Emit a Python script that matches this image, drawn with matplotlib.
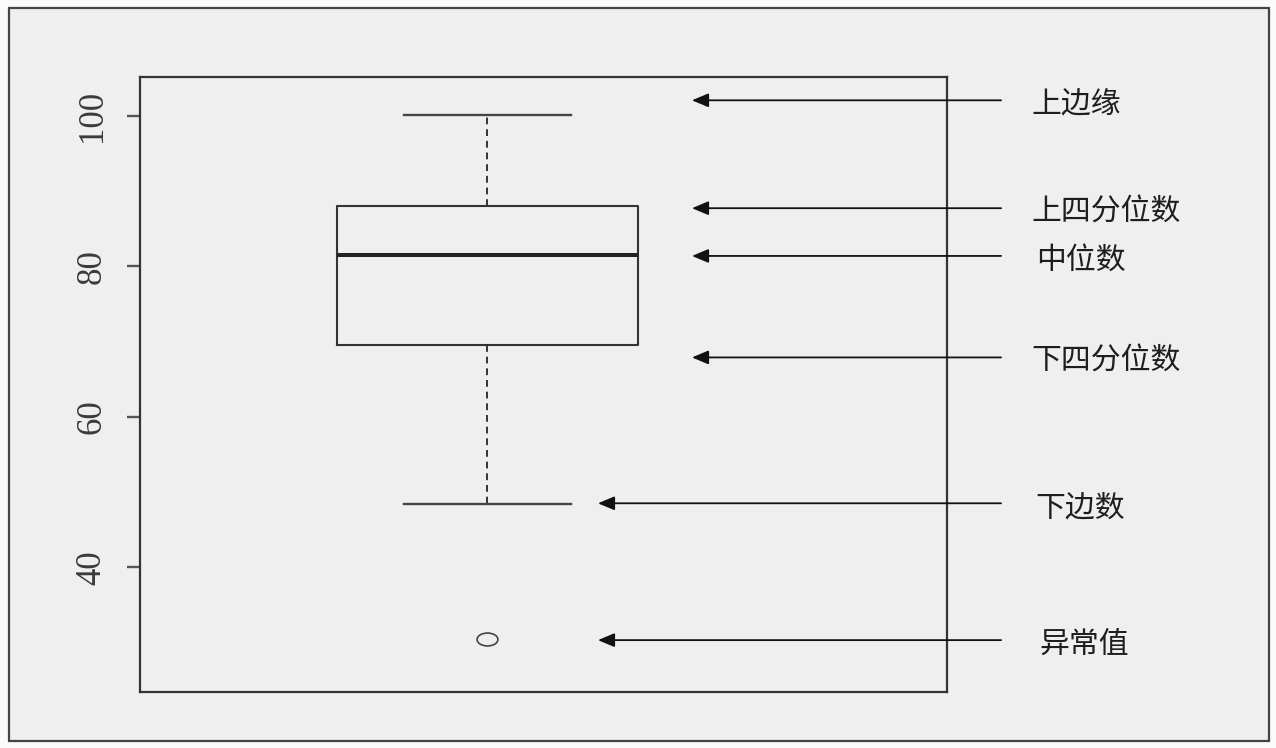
import matplotlib
matplotlib.use('Agg')
import matplotlib.pyplot as plt
from matplotlib.patches import Rectangle
from matplotlib.path import Path
from matplotlib.transforms import Affine2D

# box statistics
med = 81.5
q1 = 69.5
q3 = 88.0
whislo = 48.4
whishi = 100.2
fliers = [30.5]

yticks = [40, 60, 80, 100]

# annotation labels and the y value each arrow points at
labels = ['上边缘', '上四分位数', '中位数', '下四分位数', '下边数', '异常值']
arrow_y = [102.1, 87.75, 81.4, 67.9, 48.5, 30.3]

bg = '#f0eff0'
fig = plt.figure(figsize=(12.76, 7.48), dpi=100, facecolor='#fafafa')

# outer frame round the whole picture
fig.patches.append(Rectangle((9 / 1276, 1 - 741 / 748), 1260 / 1276, 733 / 748,
                             transform=fig.transFigure, facecolor=bg,
                             edgecolor='#444444', lw=1.6, zorder=-1))

ax = fig.add_axes([140 / 1276, 1 - 692 / 748, 807 / 1276, 615 / 748])
ax.set_facecolor(bg)

ellipse = Path.unit_circle().transformed(Affine2D().scale(1.0, 0.62))

stats = [dict(med=med, q1=q1, q3=q3, whislo=whislo, whishi=whishi, fliers=fliers)]
ax.bxp(stats, positions=[0.4305], widths=0.373, capwidths=0.207,
       manage_ticks=False,
       boxprops=dict(color='#333333', lw=1.5),
       medianprops=dict(color='#222222', lw=2.9),
       whiskerprops=dict(color='#333333', lw=1.4, linestyle=(0, (3.5, 2.5))),
       capprops=dict(color='#444444', lw=1.7),
       flierprops=dict(marker=ellipse, markersize=15, markerfacecolor='none',
                       markeredgecolor='#444444', markeredgewidth=1.2))

ax.set_xlim(0, 1)
ax.set_ylim(23.4, 105.2)
ax.set_xticks([])
ax.set_yticks(yticks)
ax.set_yticklabels([str(t) for t in yticks], rotation=90, va='center',
                   family='Liberation Serif', fontsize=25, color='#3a3a3a')
ax.tick_params(axis='y', length=9.5, width=1.7, color='#555555', pad=13)
for s in ax.spines.values():
    s.set_color('#333333')
    s.set_linewidth(1.6)

# arrows and labels to the right
head_x = [0.684, 0.684, 0.684, 0.684, 0.5675, 0.5675]
text_x = [1.105, 1.105, 1.111, 1.105, 1.110, 1.114]
for lab, y, hx, tx in zip(labels, arrow_y, head_x, text_x):
    ax.annotate('', xy=(hx, y), xytext=(1.067, y),
                xycoords=('axes fraction', 'data'), textcoords=('axes fraction', 'data'),
                arrowprops=dict(arrowstyle='-|>,head_length=1.0,head_width=0.42',
                                color='#111111', lw=1.3, shrinkA=0, shrinkB=0),
                annotation_clip=False)
    ax.annotate(lab, xy=(tx, y), xycoords=('axes fraction', 'data'),
                xytext=(0, -3), textcoords='offset points', ha='left', va='center',
                family=['Noto Sans CJK SC', 'DejaVu Sans'], fontsize=21.5,
                fontweight='medium', color='#1e1e1e', annotation_clip=False)

fig.savefig('out.png', dpi=100, facecolor=fig.get_facecolor())
